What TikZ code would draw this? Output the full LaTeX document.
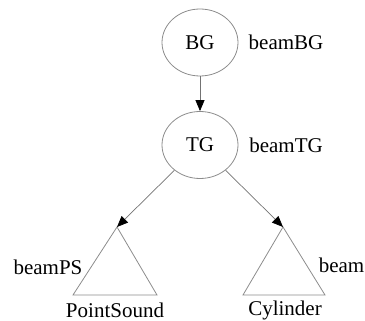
\documentclass[tikz,border=0pt]{standalone}
\usepackage{fontspec}
\setmainfont{Liberation Serif}
\usetikzlibrary{shapes.geometric,arrows.meta}
\begin{document}
\begin{tikzpicture}[x=1pt,y=-1pt,
  grp/.style={draw=black!45,line width=0.8pt,ellipse,minimum width=76pt,minimum height=67pt,inner sep=0pt,font=\fontsize{21}{21}\selectfont},
  shp/.style={draw=black!45,line width=0.8pt},
  lbl/.style={font=\fontsize{21}{21}\selectfont,inner sep=0pt},
  link/.style={draw=black!55,line width=0.7pt,-{Triangle[length=11pt,width=9pt,color=black]}}]
\useasboundingbox (0,0) rectangle (365,321);
\node[grp] (bg) at (200,42.5) {BG};
\node[grp] (tg) at (200,145) {TG};
\node[lbl] (lbg) at (286,42) {beamBG};
\node[lbl] (ltg) at (286,145) {beamTG};
% triangles standing for the shape leaves
\coordinate (psa) at (117,227);
\coordinate (csa) at (283,227);
\draw[shp] (psa) -- (157,295) -- (73,295) -- cycle;
\draw[shp] (csa) -- (325,295) -- (243,295) -- cycle;
\node[lbl] (lps) at (48,267) {beamPS};
\node[lbl,anchor=east] (lcy) at (364.5,265) {beam};
\node[lbl] (nps) at (115,310) {PointSound};
\node[lbl] (ncy) at (285,310) {Cylinder};
\draw[link] (bg) -- (tg);
\draw[link] (tg) -- (psa);
\draw[link] (tg) -- (csa);
\end{tikzpicture}
\end{document}
